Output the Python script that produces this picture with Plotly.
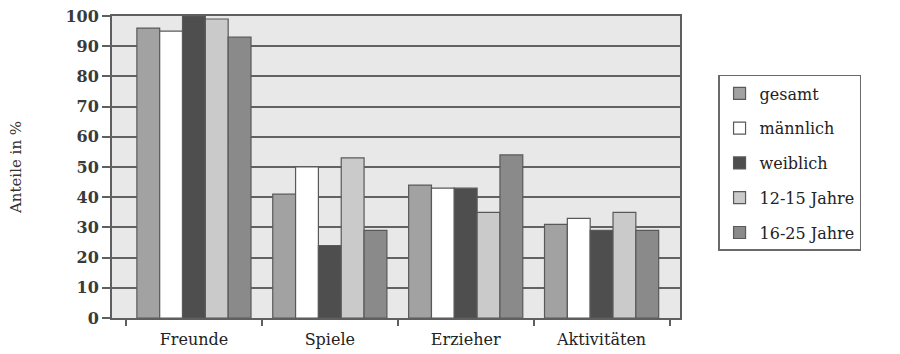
import plotly.graph_objects as go

# Categories and series (shares in percent)
categories = ["Freunde", "Spiele", "Erzieher", "Aktivitäten"]
series_names = ["gesamt", "männlich", "weiblich", "12-15 Jahre", "16-25 Jahre"]
gesamt = [96, 41, 44, 31]
maennlich = [95, 50, 43, 33]
weiblich = [100, 24, 43, 29]
jahre_12_15 = [99, 53, 35, 35]
jahre_16_25 = [93, 29, 54, 29]
y_ticks = [0, 10, 20, 30, 40, 50, 60, 70, 80, 90, 100]

values = [gesamt, maennlich, weiblich, jahre_12_15, jahre_16_25]
fills = ["#a2a2a2", "#ffffff", "#4e4e4e", "#cacaca", "#8a8a8a"]

SERIF = "DejaVu Serif"
AXIS = "#5f5f5f"

fig = go.Figure()
for name, vals, col in zip(series_names, values, fills):
    fig.add_trace(go.Bar(
        x=categories, y=vals, name=name, legendgroup=name,
        marker=dict(color=col, line=dict(color="#595959", width=1.2)),
    ))

fig.update_layout(
    width=900, height=354,
    margin=dict(l=112, r=220, t=16, b=36),
    paper_bgcolor="white",
    plot_bgcolor="#e8e8e8",
    barmode="group", bargap=0.16, bargroupgap=0,
    font=dict(family=SERIF, color="#222222", size=16),
    showlegend=True,
    legend=dict(
        x=1.067, xanchor="left", y=0.805, yanchor="top",
        bordercolor="#6a6a6a", borderwidth=1.5, bgcolor="white",
        font=dict(family=SERIF, size=16, color="#222222"),
        tracegroupgap=11, itemwidth=30,
    ),
    xaxis=dict(
        automargin=False,
        range=[-0.603, 3.577],
        showline=True, linecolor=AXIS, linewidth=2, mirror=True,
        ticks="outside", tickson="boundaries", ticklen=6, tickcolor=AXIS, tickwidth=2,
        tickfont=dict(family=SERIF, size=16, color="#222222"),
        ticklabelstandoff=6,
        showgrid=False,
    ),
    yaxis=dict(
        automargin=False,
        range=[0, 100], tickvals=y_ticks,
        showline=True, linecolor=AXIS, linewidth=2, mirror=True,
        ticks="outside", ticklen=8, tickcolor=AXIS, tickwidth=2,
        tickfont=dict(family=SERIF, size=16, color="#3a3a3a", weight="bold"),
        showgrid=True, gridcolor="#626262", gridwidth=1.5,
        zeroline=False,
        title=dict(text="Anteile in %", font=dict(family=SERIF, size=15, color="#333333"), standoff=40),
    ),
)

fig.write_html("out.html")
